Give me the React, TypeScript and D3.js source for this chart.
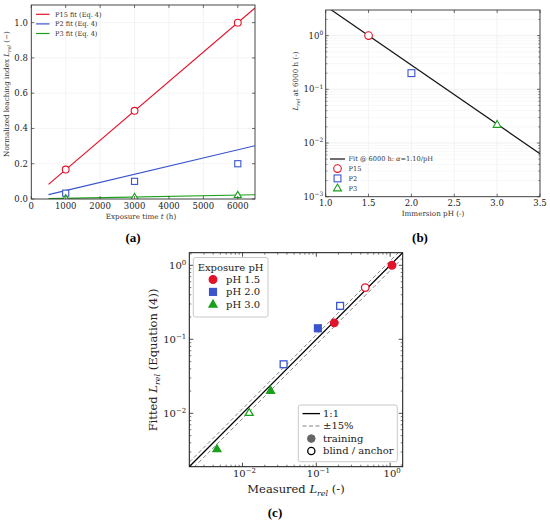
import React from 'react';
import * as d3 from 'd3';

// ---- panel (a): normalized leaching index vs exposure time
const timeH = [1000, 3000, 6000];
const p15Meas = [0.167, 0.5, 1.0];
const p2Meas = [0.033, 0.1, 0.2];
const p3Meas = [0.004, 0.011, 0.022];
const fitT = [500, 6500];
const p15Fit = [0.083, 1.083];
const p2Fit = [0.025, 0.302];
const p3Fit = [0.0017, 0.024];
const timeTicks = [0, 1000, 2000, 3000, 4000, 5000, 6000];
const indexTicks = [0, 0.2, 0.4, 0.6, 0.8, 1.0];

// ---- panel (b): L_rel at 6000 h vs immersion pH
const phLevels = [1.5, 2.0, 3.0];
const lrel6000 = [1.0, 0.2, 0.022];
const phNames = ['P15', 'P2', 'P3'];
const fitPh = [1.0, 3.5];
const fitL = [3.55, 0.0063];
const phTicks = [1.0, 1.5, 2.0, 2.5, 3.0, 3.5];

// ---- panel (c): fitted vs measured
const measured = [0.175, 1.06, 0.46, 0.105, 0.036, 0.21, 0.0045, 0.024, 0.0123];
const fitted = [0.167, 1.0, 0.5, 0.141, 0.046, 0.283, 0.0033, 0.0203, 0.0102];
const groupOf = [0, 0, 0, 1, 1, 1, 2, 2, 2];
const training = [true, true, false, true, false, false, true, true, false];
const groupLabels = ['pH 1.5', 'pH 2.0', 'pH 3.0'];
const band = [0.85, 1.15];

const RED = '#e3132a';
const BLUE = '#3a55cc';
const GREEN = '#1aa01a';
const colors = [RED, BLUE, GREEN];
const SERIF = 'DejaVu Serif, serif';

type Shape = 'circle' | 'square' | 'triangle';
const shapes: Shape[] = ['circle', 'square', 'triangle'];

function Marker({ x, y, shape, color, size, filled, sw = 1.1 }:
  { x: number; y: number; shape: Shape; color: string; size: number; filled: boolean; sw?: number }) {
  const fill = filled ? color : 'white';
  if (shape === 'circle') return <circle cx={x} cy={y} r={size} fill={fill} stroke={color} strokeWidth={sw} />;
  if (shape === 'square') {
    const s = size * 0.9;
    return <rect x={x - s} y={y - s} width={2 * s} height={2 * s} fill={fill} stroke={color} strokeWidth={sw} />;
  }
  const s = size * 1.1;
  const pts = [[x, y - s], [x + s * 0.95, y + s * 0.65], [x - s * 0.95, y + s * 0.65]];
  return <polygon points={pts.map((p) => p.join(',')).join(' ')} fill={fill} stroke={color} strokeWidth={sw} />;
}

function Pow10({ x, y, e, size, anchor }: { x: number; y: number; e: number; size: number; anchor: string }) {
  return (
    <text x={x} y={y} fontSize={size} fontFamily={SERIF} textAnchor={anchor} fill="#222">
      10<tspan dy={-size * 0.42} fontSize={size * 0.7}>{e < 0 ? `\u2212${-e}` : e}</tspan>
    </text>
  );
}

function logMinors(lo: number, hi: number) {
  const out: number[] = [];
  for (let e = Math.floor(Math.log10(lo)); e <= Math.ceil(Math.log10(hi)); e++) {
    for (let m = 2; m <= 9; m++) {
      const v = m * Math.pow(10, e);
      if (v > lo && v < hi) out.push(v);
    }
  }
  return out;
}

function PanelA() {
  const L = 31.3, R = 255, T = 5, B = 199;
  const x = d3.scaleLinear().domain([0, 6500]).range([L, R]);
  const y = d3.scaleLinear().domain([0, 1.1]).range([B, T]);
  const meas = [p15Meas, p2Meas, p3Meas];
  const fits = [p15Fit, p2Fit, p3Fit];
  const names = ['P15 fit (Eq. 4)', 'P2 fit (Eq. 4)', 'P3 fit (Eq. 4)'];
  const line = d3.line<number>().x((_, i) => x(fitT[i])).y((d) => y(d));
  return (
    <g>
      <defs>
        <clipPath id="clipA"><rect x={L} y={T} width={R - L} height={B - T} /></clipPath>
      </defs>
      {timeTicks.map((t) => <line key={'gx' + t} x1={x(t)} x2={x(t)} y1={T} y2={B} stroke="#ececec" strokeWidth={0.6} />)}
      {indexTicks.map((v) => <line key={'gy' + v} x1={L} x2={R} y1={y(v)} y2={y(v)} stroke="#ececec" strokeWidth={0.6} />)}
      <g clipPath="url(#clipA)">
        {fits.map((f, k) => <path key={k} d={line(f) || ''} fill="none" stroke={colors[k]} strokeWidth={1.2} />)}
        {meas.map((m, k) => m.map((v, i) => (
          <Marker key={`${k}-${i}`} x={x(timeH[i])} y={y(v)} shape={shapes[k]} color={colors[k]} size={3.4} filled={false} />
        )))}
      </g>
      <rect x={L} y={T} width={R - L} height={B - T} fill="none" stroke="#333" strokeWidth={0.9} />
      {timeTicks.map((t) => (
        <g key={'tx' + t}>
          <line x1={x(t)} x2={x(t)} y1={B} y2={B - 3} stroke="#333" strokeWidth={0.7} />
          <line x1={x(t)} x2={x(t)} y1={T} y2={T + 3} stroke="#333" strokeWidth={0.7} />
          <text x={x(t)} y={208.5} fontSize={8.5} fontFamily={SERIF} textAnchor="middle" fill="#222">{t}</text>
        </g>
      ))}
      {indexTicks.map((v) => (
        <g key={'ty' + v}>
          <line x1={L} x2={L + 3} y1={y(v)} y2={y(v)} stroke="#333" strokeWidth={0.7} />
          <line x1={R} x2={R - 3} y1={y(v)} y2={y(v)} stroke="#333" strokeWidth={0.7} />
          <text x={L - 3.5} y={y(v) + 3} fontSize={8.5} fontFamily={SERIF} textAnchor="end" fill="#222">{v.toFixed(1)}</text>
        </g>
      ))}
      <text x={141} y={218.5} fontSize={7.2} fontFamily={SERIF} textAnchor="middle" fill="#333">
        Exposure time <tspan fontStyle="italic">t</tspan> (h)
      </text>
      <text transform="translate(9,94) rotate(-90)" fontSize={7.2} fontFamily={SERIF} textAnchor="middle" fill="#333">
        Normalized leaching index <tspan fontStyle="italic">L</tspan><tspan fontStyle="italic" fontSize={5} dy={1.5}>rel</tspan><tspan dy={-1.5}> (−)</tspan>
      </text>
      {names.map((n, k) => (
        <g key={n}>
          <line x1={36} x2={49.5} y1={14.3 + k * 9.6} y2={14.3 + k * 9.6} stroke={colors[k]} strokeWidth={1.2} />
          <text x={55} y={16.6 + k * 9.6} fontSize={6.6} fontFamily={SERIF} fill="#333">{n}</text>
        </g>
      ))}
      <text x={133} y={242} fontSize={13} fontFamily="Liberation Serif, serif" fontWeight="bold" textAnchor="middle">(<tspan>a</tspan>)</text>
    </g>
  );
}

function PanelB() {
  const L = 325.7, R = 540, T = 10, B = 196.7;
  const x = d3.scaleLinear().domain([1.0, 3.5]).range([L, R]);
  const y = d3.scaleLog().domain([1e-3, 3]).range([B, T]);
  const majors = [1e-3, 1e-2, 1e-1, 1];
  const minors = logMinors(1e-3, 3);
  const line = d3.line<number>().x((_, i) => x(fitPh[i])).y((d) => y(d));
  return (
    <g>
      <defs>
        <clipPath id="clipB"><rect x={L} y={T} width={R - L} height={B - T} /></clipPath>
      </defs>
      {minors.map((v) => <line key={'gm' + v} x1={L} x2={R} y1={y(v)} y2={y(v)} stroke="#f0f0f0" strokeWidth={0.5} />)}
      {majors.map((v) => <line key={'gM' + v} x1={L} x2={R} y1={y(v)} y2={y(v)} stroke="#e6e6e6" strokeWidth={0.6} />)}
      {phTicks.map((t) => <line key={'gx' + t} x1={x(t)} x2={x(t)} y1={T} y2={B} stroke="#ececec" strokeWidth={0.6} />)}
      <g clipPath="url(#clipB)">
        <path d={line(fitL) || ''} fill="none" stroke="#111" strokeWidth={1.2} />
        {phLevels.map((p, k) => (
          <Marker key={k} x={x(p)} y={y(lrel6000[k])} shape={shapes[k]} color={colors[k]} size={3.8} filled={false} />
        ))}
      </g>
      <rect x={L} y={T} width={R - L} height={B - T} fill="none" stroke="#333" strokeWidth={0.9} />
      {phTicks.map((t) => (
        <g key={'tx' + t}>
          <line x1={x(t)} x2={x(t)} y1={B} y2={B - 3} stroke="#333" strokeWidth={0.7} />
          <line x1={x(t)} x2={x(t)} y1={T} y2={T + 3} stroke="#333" strokeWidth={0.7} />
          <text x={x(t)} y={205.5} fontSize={8.5} fontFamily={SERIF} textAnchor="middle" fill="#222">{t.toFixed(1)}</text>
        </g>
      ))}
      {minors.map((v) => (
        <g key={'tm' + v}>
          <line x1={L} x2={L + 1.8} y1={y(v)} y2={y(v)} stroke="#333" strokeWidth={0.5} />
          <line x1={R} x2={R - 1.8} y1={y(v)} y2={y(v)} stroke="#333" strokeWidth={0.5} />
        </g>
      ))}
      {majors.map((v) => (
        <g key={'ty' + v}>
          <line x1={L} x2={L + 3} y1={y(v)} y2={y(v)} stroke="#333" strokeWidth={0.7} />
          <line x1={R} x2={R - 3} y1={y(v)} y2={y(v)} stroke="#333" strokeWidth={0.7} />
          <Pow10 x={L - 2.5} y={y(v) + 3} e={Math.round(Math.log10(v))} size={8.5} anchor="end" />
        </g>
      ))}
      <text x={433} y={215.5} fontSize={7.2} fontFamily={SERIF} textAnchor="middle" fill="#333">Immersion pH (-)</text>
      <text transform="translate(298,81) rotate(-90)" fontSize={7.2} fontFamily={SERIF} textAnchor="middle" fill="#333">
        <tspan fontStyle="italic">L</tspan><tspan fontStyle="italic" fontSize={5} dy={1.5}>rel</tspan><tspan dy={-1.5}> at 6000 h (-)</tspan>
      </text>
      <line x1={330} x2={345} y1={159} y2={159} stroke="#111" strokeWidth={1.2} />
      <text x={348.5} y={161.3} fontSize={6.6} fontFamily={SERIF} fill="#333">
        Fit @ 6000 h: <tspan fontStyle="italic">α</tspan>=1.10/pH
      </text>
      {phNames.map((n, k) => (
        <g key={n}>
          <Marker x={337.5} y={168.6 + k * 9.8} shape={shapes[k]} color={colors[k]} size={3.8} filled={false} />
          <text x={348.5} y={171 + k * 9.8} fontSize={6.6} fontFamily={SERIF} fill="#333">{n}</text>
        </g>
      ))}
      <text x={420} y={242} fontSize={13} fontFamily="Liberation Serif, serif" fontWeight="bold" textAnchor="middle">(b)</text>
    </g>
  );
}

function PanelC() {
  const L = 189.3, R = 402.7, T = 252.7, B = 466.7;
  const dom: [number, number] = [0.0019, 1.48];
  const x = d3.scaleLog().domain(dom).range([L, R]);
  const y = d3.scaleLog().domain(dom).range([B, T]);
  const majors = [1e-2, 1e-1, 1];
  const minors = logMinors(dom[0], dom[1]);
  const diag = [dom[0], dom[1]];
  const ref = (f: number) => d3.line<number>().x((d) => x(d)).y((d) => y(d * f))(diag) || '';
  return (
    <g>
      <defs>
        <clipPath id="clipC"><rect x={L} y={T} width={R - L} height={B - T} /></clipPath>
      </defs>
      <g clipPath="url(#clipC)">
        {band.map((f) => <path key={f} d={ref(f)} fill="none" stroke="#777" strokeWidth={0.9} strokeDasharray="4,2.5" />)}
        <path d={ref(1)} fill="none" stroke="#000" strokeWidth={1.3} />
        {measured.map((m, i) => (
          <Marker key={i} x={x(m)} y={y(fitted[i])} shape={shapes[groupOf[i]]} color={colors[groupOf[i]]}
            size={3.8} filled={training[i]} sw={1.3} />
        ))}
      </g>
      <rect x={L} y={T} width={R - L} height={B - T} fill="none" stroke="#111" strokeWidth={1} />
      {minors.map((v) => (
        <g key={'m' + v}>
          <line x1={x(v)} x2={x(v)} y1={B} y2={B - 2} stroke="#222" strokeWidth={0.6} />
          <line x1={x(v)} x2={x(v)} y1={T} y2={T + 2} stroke="#222" strokeWidth={0.6} />
          <line x1={L} x2={L + 2} y1={y(v)} y2={y(v)} stroke="#222" strokeWidth={0.6} />
          <line x1={R} x2={R - 2} y1={y(v)} y2={y(v)} stroke="#222" strokeWidth={0.6} />
        </g>
      ))}
      {majors.map((v) => {
        const e = Math.round(Math.log10(v));
        return (
          <g key={'M' + v}>
            <line x1={x(v)} x2={x(v)} y1={B} y2={B - 4} stroke="#222" strokeWidth={0.8} />
            <line x1={x(v)} x2={x(v)} y1={T} y2={T + 4} stroke="#222" strokeWidth={0.8} />
            <line x1={L} x2={L + 4} y1={y(v)} y2={y(v)} stroke="#222" strokeWidth={0.8} />
            <line x1={R} x2={R - 4} y1={y(v)} y2={y(v)} stroke="#222" strokeWidth={0.8} />
            <Pow10 x={x(v) + 2} y={477} e={e} size={10} anchor="middle" />
            <Pow10 x={L - 3} y={y(v) + 3.5} e={e} size={10} anchor="end" />
          </g>
        );
      })}
      <text x={296} y={493} fontSize={11.5} fontFamily={SERIF} textAnchor="middle" fill="#222">
        Measured <tspan fontStyle="italic">L</tspan><tspan fontStyle="italic" fontSize={8} dy={2.5}>rel</tspan><tspan dy={-2.5}> (-)</tspan>
      </text>
      <text transform="translate(157,360) rotate(-90)" fontSize={11.5} fontFamily={SERIF} textAnchor="middle" fill="#222">
        Fitted <tspan fontStyle="italic">L</tspan><tspan fontStyle="italic" fontSize={8} dy={2.5}>rel</tspan><tspan dy={-2.5}> (Equation (4))</tspan>
      </text>
      {/* legend: exposure pH */}
      <rect x={193.3} y={257.5} width={74.7} height={59.5} rx={2} fill="white" fillOpacity={0.9} stroke="#bbb" strokeWidth={0.8} />
      <text x={230.6} y={270.5} fontSize={10} fontFamily={SERIF} textAnchor="middle" fill="#222">Exposure pH</text>
      {groupLabels.map((g, k) => (
        <g key={g}>
          <Marker x={213} y={279.5 + k * 12.4} shape={shapes[k]} color={colors[k]} size={3.8} filled sw={1.3} />
          <text x={226} y={283 + k * 12.4} fontSize={10} fontFamily={SERIF} fill="#222">{g}</text>
        </g>
      ))}
      {/* legend: reference lines and marker fill */}
      <rect x={298.3} y={405} width={99} height={56.7} rx={2} fill="white" fillOpacity={0.9} stroke="#bbb" strokeWidth={0.8} />
      <line x1={302.5} x2={320} y1={413.6} y2={413.6} stroke="#000" strokeWidth={1.3} />
      <text x={323} y={417} fontSize={10} fontFamily={SERIF} fill="#222">1:1</text>
      <line x1={302.5} x2={320} y1={426} y2={426} stroke="#777" strokeWidth={0.9} strokeDasharray="4,2.5" />
      <text x={323} y={429.4} fontSize={10} fontFamily={SERIF} fill="#222">±15%</text>
      <circle cx={311.3} cy={438.6} r={3.8} fill="#666" stroke="#666" strokeWidth={1} />
      <text x={323} y={442} fontSize={10} fontFamily={SERIF} fill="#222">training</text>
      <circle cx={311.3} cy={451} r={3.6} fill="white" stroke="#000" strokeWidth={1.3} />
      <text x={323} y={454.4} fontSize={10} fontFamily={SERIF} fill="#222">blind / anchor</text>
      <text x={275} y={517} fontSize={13} fontFamily="Liberation Serif, serif" fontWeight="bold" textAnchor="middle">(c)</text>
    </g>
  );
}

export default function App() {
  return (
    <svg width={550} height={524} viewBox="0 0 550 524"
      style={{ position: 'absolute', left: 0, top: 0, background: 'white' }}>
      <rect width={550} height={524} fill="white" />
      <PanelA />
      <PanelB />
      <PanelC />
    </svg>
  );
}
